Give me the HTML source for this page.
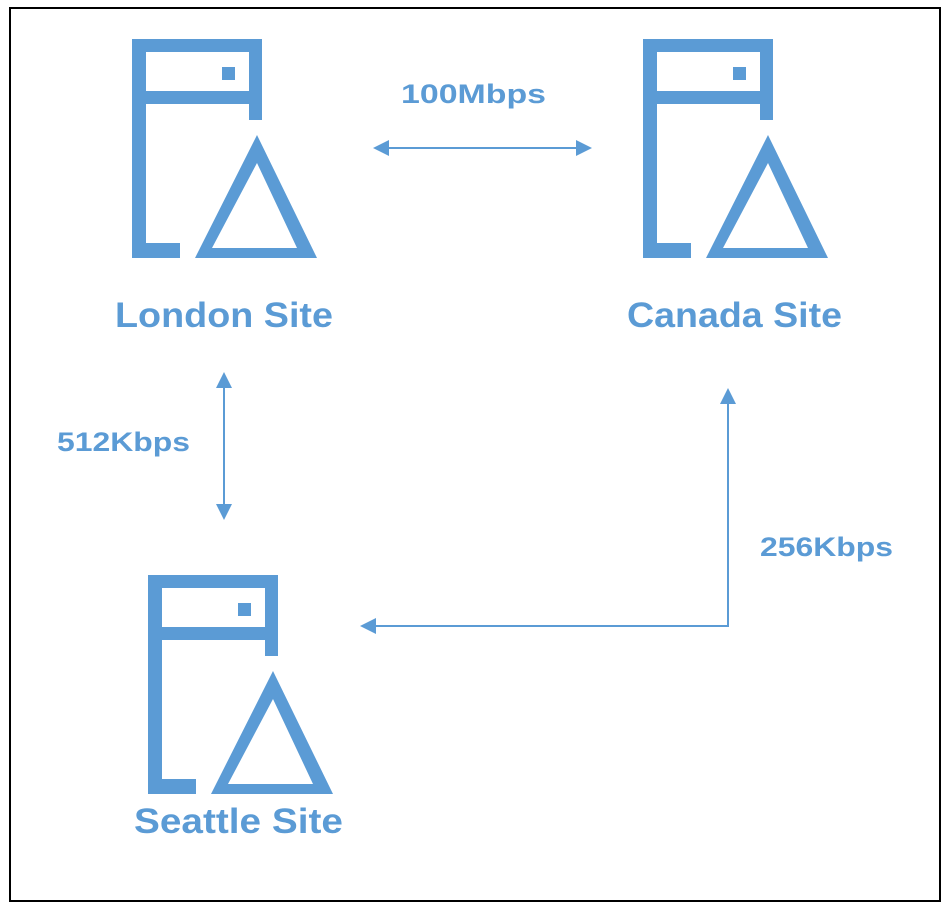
<!DOCTYPE html>
<html><head><style>
html,body{margin:0;padding:0;background:#fff;}
svg{display:block;}
text{font-family:"Liberation Sans",sans-serif;font-weight:bold;fill:#5b9bd5;}
</style></head><body>
<svg width="951" height="913" viewBox="0 0 951 913" xmlns="http://www.w3.org/2000/svg">
<defs>
<g id="ic" fill="#5b9bd5">
<path d="M0 0H130V81H117V13H14V52H117V65H14V204H48V219H0Z"/>
<rect x="90" y="28" width="13" height="13"/>
<path fill-rule="evenodd" d="M125 96L185 219H63Z M125 124L165 209H80Z"/>
</g>
</defs>
<rect x="10" y="8" width="930" height="893" fill="none" stroke="#000" stroke-width="2"/>
<use href="#ic" x="132" y="39"/>
<use href="#ic" x="643" y="39"/>
<use href="#ic" x="148" y="575"/>
<text x="115" y="327" font-size="35" textLength="218" lengthAdjust="spacingAndGlyphs">London Site</text>
<text x="627" y="327" font-size="35" textLength="215" lengthAdjust="spacingAndGlyphs">Canada Site</text>
<text x="134" y="833" font-size="35" textLength="209" lengthAdjust="spacingAndGlyphs">Seattle Site</text>
<text x="401" y="103" font-size="27" textLength="145" lengthAdjust="spacingAndGlyphs">100Mbps</text>
<text x="57" y="451" font-size="27" textLength="133" lengthAdjust="spacingAndGlyphs">512Kbps</text>
<text x="760" y="556" font-size="27" textLength="133" lengthAdjust="spacingAndGlyphs">256Kbps</text>
<g stroke="#5b9bd5" stroke-width="2" fill="none">
<line x1="385" y1="148" x2="580" y2="148"/>
<line x1="224" y1="385" x2="224" y2="508"/>
<polyline points="728,402 728,626 373,626"/>
</g>
<g fill="#5b9bd5">
<path d="M373 148L389 140V156Z"/><path d="M592 148L576 140V156Z"/>
<path d="M224 372L216 388H232Z"/><path d="M224 520L216 504H232Z"/>
<path d="M728 388L720 404H736Z"/><path d="M360 626L376 618V634Z"/>
</g>
</svg>
</body></html>
